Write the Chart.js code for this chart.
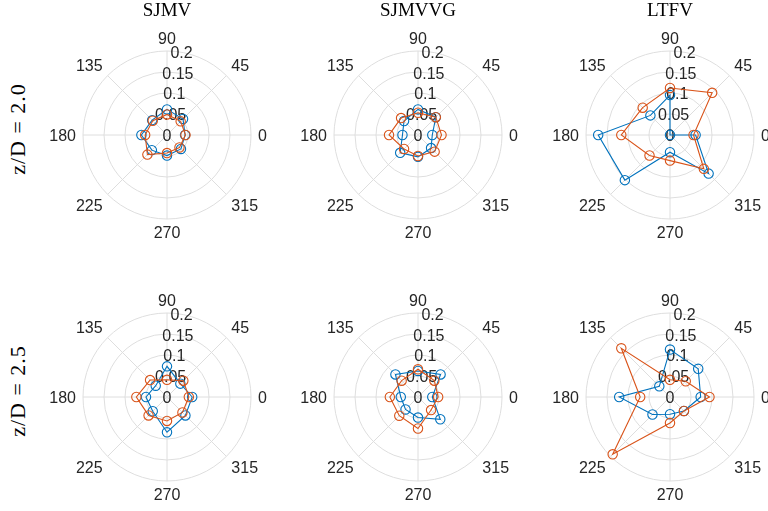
<!DOCTYPE html>
<html>
<head>
<meta charset="utf-8">
<script src="https://cdn.jsdelivr.net/npm/chart.js@4.4.0/dist/chart.umd.min.js"></script>
<style>
  html, body { margin: 0; padding: 0; background: #fff; overflow: hidden; }
  #wrap { position: relative; width: 768px; height: 511px; }
  canvas { position: absolute; }
  .title { position: absolute; top: 0px; width: 200px; margin-left: -100px; text-align: center;
           font: 19px "Liberation Serif", serif; line-height: 19px; color: #000; }
  .rowlab { position: absolute; font: 22px "Liberation Serif", serif; line-height: 22px; color: #000;
            letter-spacing: 1px; white-space: nowrap; transform: translate(-50%, -50%) rotate(-90deg); }
</style>
</head>
<body>
<div id="wrap"></div>
<script>
// angles in degrees, series values in the same order
const thetaTicks = [0, 45, 90, 135, 180, 225, 270, 315];
const rTicks = [0, 0.05, 0.1, 0.15, 0.2];
const colTitles = ["SJMV", "SJMVVG", "LTFV"];
const rowTitles = ["z/D = 2.0", "z/D = 2.5"];

const sjmv20Blue     = [0.043, 0.054, 0.061, 0.050, 0.061, 0.051, 0.049, 0.047];
const sjmv20Orange   = [0.044, 0.046, 0.049, 0.048, 0.052, 0.066, 0.043, 0.042];
const sjmvvg20Blue   = [0.034, 0.060, 0.061, 0.047, 0.037, 0.060, 0.052, 0.044];
const sjmvvg20Orange = [0.056, 0.060, 0.053, 0.057, 0.069, 0.047, 0.050, 0.056];
const ltfv20Blue     = [0.061, 0.000, 0.095, 0.066, 0.171, 0.152, 0.041, 0.130];
const ltfv20Orange   = [0.056, 0.142, 0.112, 0.092, 0.116, 0.069, 0.061, 0.114];
const sjmv25Blue     = [0.060, 0.045, 0.073, 0.038, 0.050, 0.048, 0.084, 0.062];
const sjmv25Orange   = [0.052, 0.055, 0.041, 0.057, 0.073, 0.062, 0.057, 0.052];
const sjmvvg25Blue   = [0.034, 0.076, 0.062, 0.076, 0.041, 0.042, 0.049, 0.075];
const sjmvvg25Orange = [0.048, 0.055, 0.066, 0.055, 0.067, 0.063, 0.075, 0.044];
const ltfv25Blue     = [0.073, 0.095, 0.113, 0.036, 0.121, 0.059, 0.041, 0.047];
const ltfv25Orange   = [0.094, 0.053, 0.041, 0.164, 0.071, 0.193, 0.062, 0.047];

const panels = [
    [sjmv20Blue, sjmv20Orange], [sjmvvg20Blue, sjmvvg20Orange], [ltfv20Blue, ltfv20Orange],
    [sjmv25Blue, sjmv25Orange], [sjmvvg25Blue, sjmvvg25Orange], [ltfv25Blue, ltfv25Orange]
];

const centersX = [167, 418, 670];
const centersY = [135, 397];
const BLUE = "#0072BD";
const ORANGE = "#D95319";
const GRID = "#dedede";
const TEXT = "#262626";

// chart.js radar goes clockwise, matlab polar goes counter-clockwise
const order = [0, 7, 6, 5, 4, 3, 2, 1];
function reorder(arr) {
    return order.map(i => arr[i]);
}

const polarText = {
    id: "polarText",
    beforeDatasetsDraw(chart) {
        const s = chart.scales.r;
        const ctx = chart.ctx;
        ctx.save();
        ctx.font = '16px "Liberation Sans", Arial, sans-serif';
        ctx.fillStyle = TEXT;
        ctx.textBaseline = "alphabetic";
        const cap = 11.5;
        // theta labels
        s._pointLabels.forEach((lab, i) => {
            const p = s.getPointPosition(i, s.drawingArea + 7);
            const dx = p.x - s.xCenter, dy = p.y - s.yCenter;
            let y = p.y;
            if (dx > 1) ctx.textAlign = "left";
            else if (dx < -1) ctx.textAlign = "right";
            else ctx.textAlign = "center";
            if (dy > 1) y = p.y + cap;
            else if (Math.abs(dy) <= 1) y = p.y + cap / 2;
            ctx.fillText(lab, p.x, y);
        });
        // r tick labels along 80 degrees
        const a = 80 * Math.PI / 180;
        ctx.textAlign = "center";
        rTicks.forEach(v => {
            const d = s.getDistanceFromCenterForValue(v);
            ctx.fillText(String(v), s.xCenter + d * Math.cos(a), s.yCenter - d * Math.sin(a) + cap / 2);
        });
        ctx.restore();
    }
};

const wrap = document.getElementById("wrap");
const SIZE = 240;
const PAD = 36;

panels.forEach((pair, k) => {
    const col = k % 3, row = Math.floor(k / 3);
    const cv = document.createElement("canvas");
    cv.width = SIZE;
    cv.height = SIZE;
    cv.style.width = SIZE + "px";
    cv.style.height = SIZE + "px";
    cv.style.left = (centersX[col] - SIZE / 2) + "px";
    cv.style.top = (centersY[row] - SIZE / 2) + "px";
    wrap.appendChild(cv);

    const mkSet = (data, color, ord) => ({
        data: reorder(data),
        borderColor: color,
        borderWidth: 1.1,
        fill: false,
        pointStyle: "circle",
        pointRadius: 4.7,
        pointBorderWidth: 1.1,
        pointBorderColor: color,
        pointBackgroundColor: "rgba(0,0,0,0)",
        order: ord
    });

    new Chart(cv.getContext("2d"), {
        type: "radar",
        data: {
            labels: reorder(thetaTicks).map(String),
            datasets: [mkSet(pair[0], BLUE, 2), mkSet(pair[1], ORANGE, 1)]
        },
        options: {
            responsive: false,
            animation: false,
            devicePixelRatio: 1,
            layout: { padding: PAD },
            plugins: { legend: { display: false }, tooltip: { enabled: false } },
            elements: { line: { tension: 0 } },
            scales: {
                r: {
                    min: 0,
                    max: 0.2,
                    startAngle: 90,
                    ticks: { display: false, stepSize: 0.05 },
                    grid: { circular: true, color: GRID, lineWidth: 1 },
                    angleLines: { color: GRID, lineWidth: 1 },
                    pointLabels: { display: false }
                }
            }
        },
        plugins: [polarText]
    });
});

colTitles.forEach((t, i) => {
    const d = document.createElement("div");
    d.className = "title";
    d.style.left = centersX[i] + "px";
    d.textContent = t;
    wrap.appendChild(d);
});

rowTitles.forEach((t, i) => {
    const d = document.createElement("div");
    d.className = "rowlab";
    d.style.left = "18px";
    d.style.top = (centersY[i] - 6) + "px";
    d.textContent = t;
    wrap.appendChild(d);
});
</script>
</body>
</html>
